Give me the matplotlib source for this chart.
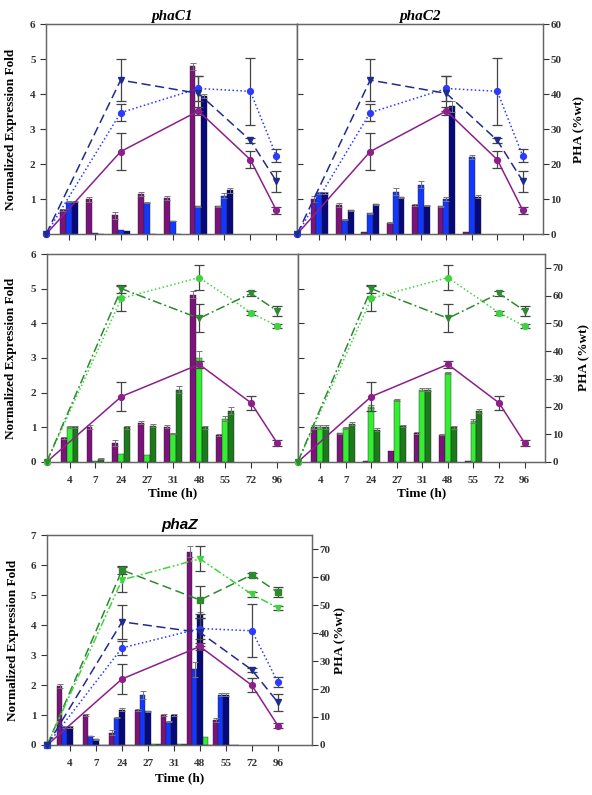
import matplotlib
matplotlib.use("Agg")
import matplotlib.pyplot as plt
import numpy as np

# ---------------- data ----------------
x_labels = ['4', '7', '24', '27', '31', '48', '55', '72', '96']
bar_cats = ['4', '7', '24', '27', '31', '48', '55']
line_times = ['0', '24', '48', '72', '96']

# PHA content (%wt)
pha_purple = [0, 23.6, 35.2, 21.3, 6.9]
pha_purple_err = [0, 5.3, 1.2, 2.5, 1.0]
pha_blue = [0, 34.7, 41.6, 40.8, 22.4]
pha_blue_err = [0, 2.5, 3.6, 9.5, 1.8]
pha_navy = [0, 44.0, 40.2, 26.8, 15.2]
pha_navy_err = [0, 6.0, 5.0, 0.8, 3.0]
pha_lgreen = [0, 59.0, 66.5, 53.8, 49.0]
pha_lgreen_err = [0, 4.5, 4.5, 0.8, 0.8]
pha_dgreen = [0, 62.5, 51.8, 60.8, 54.5]
pha_dgreen_err = [0, 1.5, 5.0, 0.8, 1.8]

# phaC1 expression (top-left)
c1_purple = [0.70, 1.00, 0.55, 1.15, 1.03, 4.80, 0.80]
c1_purple_err = [0.03, 0.07, 0.10, 0.06, 0.05, 0.10, 0.02]
c1_blue = [0.93, 0.03, 0.12, 0.90, 0.38, 0.80, 1.10]
c1_blue_err = [0.02, 0.0, 0.0, 0.02, 0.01, 0.02, 0.07]
c1_navy = [0.93, 0.02, 0.10, 0.02, 0.00, 3.95, 1.25]
c1_navy_err = [0.02, 0.0, 0.0, 0.0, 0.0, 0.05, 0.07]

# phaC2 expression (top-right)
c2_purple = [1.00, 0.83, 0.07, 0.33, 0.83, 0.80, 0.07]
c2_purple_err = [0.08, 0.05, 0.0, 0.02, 0.03, 0.02, 0.0]
c2_blue = [1.18, 0.42, 0.60, 1.22, 1.42, 1.00, 2.20]
c2_blue_err = [0.03, 0.02, 0.02, 0.10, 0.10, 0.05, 0.06]
c2_navy = [1.18, 0.68, 0.85, 1.05, 0.82, 3.65, 1.07]
c2_navy_err = [0.03, 0.02, 0.02, 0.02, 0.02, 0.15, 0.04]

# phaC1 expression, green strains (middle-left)
m1_purple = [0.68, 1.00, 0.55, 1.13, 1.02, 4.82, 0.78]
m1_purple_err = [0.03, 0.06, 0.08, 0.04, 0.05, 0.10, 0.02]
m1_lgreen = [1.00, 0.02, 0.22, 0.20, 0.82, 3.00, 1.25]
m1_lgreen_err = [0.03, 0.0, 0.0, 0.0, 0.02, 0.20, 0.08]
m1_dgreen = [1.00, 0.10, 1.00, 1.05, 2.08, 1.00, 1.48]
m1_dgreen_err = [0.03, 0.01, 0.04, 0.05, 0.10, 0.04, 0.10]

# phaC2 expression, green strains (middle-right)
m2_purple = [1.00, 0.83, 0.03, 0.33, 0.83, 0.79, 0.03]
m2_purple_err = [0.06, 0.02, 0.0, 0.0, 0.03, 0.02, 0.0]
m2_lgreen = [1.00, 0.98, 1.60, 1.78, 2.08, 2.58, 1.19]
m2_lgreen_err = [0.06, 0.02, 0.03, 0.03, 0.04, 0.03, 0.06]
m2_dgreen = [1.00, 1.10, 0.93, 1.05, 2.08, 1.00, 1.48]
m2_dgreen_err = [0.06, 0.04, 0.04, 0.03, 0.04, 0.04, 0.06]

# phaZ expression (bottom)
z_purple = [1.97, 1.00, 0.41, 1.17, 1.00, 6.45, 0.83]
z_purple_err = [0.08, 0.04, 0.08, 0.03, 0.03, 0.18, 0.06]
z_blue = [0.60, 0.30, 0.91, 1.67, 0.78, 2.52, 1.67]
z_blue_err = [0.02, 0.01, 0.02, 0.12, 0.02, 0.25, 0.05]
z_navy = [0.60, 0.19, 1.17, 1.13, 1.00, 4.35, 1.67]
z_navy_err = [0.02, 0.01, 0.05, 0.02, 0.03, 0.10, 0.05]
z_lgreen = [0.0, 0.0, 0.0, 0.02, 0.02, 0.28, 0.0]
z_dgreen = [0.0, 0.0, 0.0, 0.02, 0.02, 0.0, 0.0]

# ---------------- style ----------------
C_PURPLE = '#7B137B'
C_BLUE = '#1238FF'
C_NAVY = '#07087A'
C_LGREEN = '#33EE33'
C_DGREEN = '#1C7A1C'
L_PURPLE = '#8C1F8C'
L_BLUE = '#2B3BFF'
L_NAVY = '#1F2C8C'
L_LGREEN = '#3FD43F'
L_DGREEN = '#2E8A2E'
ERR = '#444444'
SPINE = '#666666'

SERIF = ['Liberation Serif', 'DejaVu Serif']
plt.rcParams['font.family'] = SERIF
plt.rcParams['font.weight'] = 'bold'

fig = plt.figure(figsize=(5.92, 7.95), dpi=100)

bar_x = np.arange(1, len(bar_cats) + 1)
tick_x = np.arange(1, len(x_labels) + 1)
X0 = 0.12
line_x = [X0, x_labels.index('24') + 1, x_labels.index('48') + 1,
          x_labels.index('72') + 1, x_labels.index('96') + 1]


def style_axis(ax):
    for s in ax.spines.values():
        s.set_color(SPINE)
        s.set_linewidth(0.9)
    ax.tick_params(colors='#333333', length=4, width=0.8, labelsize=8)
    for t in ax.get_xticklabels() + ax.get_yticklabels():
        t.set_fontweight('bold')


def draw_bars(ax, series, width):
    n = len(series)
    for i, (vals, errs, col) in enumerate(series):
        off = (i - (n - 1) / 2) * width
        ax.bar(bar_x + off, vals, width=width, color=col,
               edgecolor='#222222', linewidth=0.3, zorder=2)
        if errs is not None:
            e = np.array(errs)
            m = e > 0
            ax.errorbar((bar_x + off)[m], np.array(vals)[m], yerr=e[m],
                        fmt='none', ecolor='#777777', elinewidth=0.7,
                        capsize=2.5, capthick=0.7, zorder=3)


def draw_line(ax, vals, errs, color, marker, dashes, ms=4.2):
    ln, = ax.plot(line_x, vals, color=color, lw=1.1, marker=marker,
                  ms=ms, mfc=color, mec=color, zorder=5, clip_on=False)
    if dashes is not None:
        ln.set_dashes(dashes)
    ax.errorbar(line_x[1:], vals[1:], yerr=errs[1:], fmt='none',
                ecolor=ERR, elinewidth=0.9, capsize=3.5, capthick=0.9,
                zorder=4)


def make_panel(rect, bars, width, lines, ylim_left, yticks_left,
               ylim_right, yticks_right, xlim, left_labels=True,
               right_labels=False, show_xlabels=False):
    ax = fig.add_axes(rect)
    draw_bars(ax, bars, width)
    ax.set_xlim(*xlim)
    ax.set_ylim(*ylim_left)
    ax.set_xticks(tick_x)
    if show_xlabels:
        ax.set_xticklabels(x_labels)
    else:
        ax.set_xticklabels([])
    ax.set_yticks(yticks_left)
    if not left_labels:
        ax.tick_params(axis='y', direction='in', labelleft=False)
    ax.tick_params(axis='x', pad=6)
    style_axis(ax)
    ax2 = ax.twinx()
    ax2.set_ylim(*ylim_right)
    for (vals, errs, col, mk, ds) in lines:
        draw_line(ax2, vals, errs, col, mk, ds)
    if right_labels:
        ax2.set_yticks(yticks_right)
    else:
        ax2.set_yticks([])
    style_axis(ax2)
    ax2.tick_params(axis='y', pad=1.5)
    ax2.set_xlim(*xlim)
    return ax, ax2


DOT = (1, 1.6)
DASH = (6, 3)
DASHDOT = (6, 2, 1.2, 2)
DASHDOTDOT = (5, 1.6, 1.2, 1.6, 1.2, 1.6)

blue_lines = [
    (pha_purple, pha_purple_err, L_PURPLE, 'o', None),
    (pha_blue, pha_blue_err, L_BLUE, 'o', DOT),
    (pha_navy, pha_navy_err, L_NAVY, 'v', DASH),
]
green_lines = [
    (pha_purple, pha_purple_err, L_PURPLE, 'o', None),
    (pha_lgreen, pha_lgreen_err, L_LGREEN, 'o', DOT),
    (pha_dgreen, pha_dgreen_err, L_DGREEN, 'v', DASHDOT),
]
all_lines = [
    (pha_dgreen, pha_dgreen_err, L_DGREEN, 's', DASH),
    (pha_lgreen, pha_lgreen_err, L_LGREEN, 'v', DASHDOTDOT),
    (pha_purple, pha_purple_err, L_PURPLE, 'o', None),
    (pha_blue, pha_blue_err, L_BLUE, 'o', DOT),
    (pha_navy, pha_navy_err, L_NAVY, 'v', DASH),
]

W3 = 0.23
XL = (X0, 9.8)
LBL = 9.5

# top-left phaC1
ax, ax2 = make_panel([0.0777, 0.7053, 0.4240, 0.2645],
                     [(c1_purple, c1_purple_err, C_PURPLE),
                      (c1_blue, c1_blue_err, C_BLUE),
                      (c1_navy, c1_navy_err, C_NAVY)], W3, blue_lines,
                     (0, 6), [1, 2, 3, 4, 5, 6], (0, 60), [], XL)
ax.set_ylabel('Normalized Expression Fold', fontsize=LBL, fontweight='bold')
ax.yaxis.set_label_coords(-0.115, 0.5)
ax.set_title('phaC1', fontsize=11, fontweight='bold', style='italic', pad=3)

# top-right phaC2
ax, ax2 = make_panel([0.5017, 0.7053, 0.4155, 0.2645],
                     [(c2_purple, c2_purple_err, C_PURPLE),
                      (c2_blue, c2_blue_err, C_BLUE),
                      (c2_navy, c2_navy_err, C_NAVY)], W3, blue_lines,
                     (0, 6), [1, 2, 3, 4, 5], (0, 60),
                     [0, 10, 20, 30, 40, 50, 60], XL,
                     left_labels=False, right_labels=True)
ax2.set_ylabel('PHA (%wt)', fontsize=LBL, fontweight='bold')
ax2.yaxis.set_label_coords(1.122, 0.5)
ax.set_title('phaC2', fontsize=11, fontweight='bold', style='italic', pad=3)

# middle-left
ax, ax2 = make_panel([0.0789, 0.4189, 0.4241, 0.2616],
                     [(m1_purple, m1_purple_err, C_PURPLE),
                      (m1_lgreen, m1_lgreen_err, C_LGREEN),
                      (m1_dgreen, m1_dgreen_err, C_DGREEN)], W3, green_lines,
                     (0, 6), [0, 1, 2, 3, 4, 5, 6], (0, 75), [], XL,
                     show_xlabels=True)
ax.set_ylabel('Normalized Expression Fold', fontsize=LBL, fontweight='bold')
ax.yaxis.set_label_coords(-0.118, 0.5)
ax.set_xlabel('Time (h)', fontsize=LBL, fontweight='bold', labelpad=2)

# middle-right
ax, ax2 = make_panel([0.503, 0.4189, 0.4176, 0.2616],
                     [(m2_purple, m2_purple_err, C_PURPLE),
                      (m2_lgreen, m2_lgreen_err, C_LGREEN),
                      (m2_dgreen, m2_dgreen_err, C_DGREEN)], W3, green_lines,
                     (0, 6), [1, 2, 3, 4, 5], (0, 75),
                     [0, 10, 20, 30, 40, 50, 60, 70], XL,
                     left_labels=False, right_labels=True, show_xlabels=True)
ax2.set_ylabel('PHA (%wt)', fontsize=LBL, fontweight='bold')
ax2.yaxis.set_label_coords(1.134, 0.5)
ax.set_xlabel('Time (h)', fontsize=LBL, fontweight='bold', labelpad=2)

# bottom phaZ
ax, ax2 = make_panel([0.0789, 0.0629, 0.4476, 0.2641],
                     [(z_purple, z_purple_err, C_PURPLE),
                      (z_blue, z_blue_err, C_BLUE),
                      (z_navy, z_navy_err, C_NAVY),
                      (z_lgreen, None, C_LGREEN),
                      (z_dgreen, None, C_DGREEN)], 0.2, all_lines,
                     (0, 7), [0, 1, 2, 3, 4, 5, 6, 7], (0, 75),
                     [0, 10, 20, 30, 40, 50, 60, 70], (0.1, 10.3),
                     right_labels=True, show_xlabels=True)
ax.set_ylabel('Normalized Expression Fold', fontsize=LBL, fontweight='bold')
ax.yaxis.set_label_coords(-0.103, 0.5)
ax2.set_ylabel('PHA (%wt)', fontsize=LBL, fontweight='bold')
ax2.yaxis.set_label_coords(1.085, 0.5)
ax.set_xlabel('Time (h)', fontsize=LBL, fontweight='bold', labelpad=3)
ax.set_title('phaZ', fontsize=11, fontweight='bold', style='italic', pad=4,
             family=['Liberation Sans', 'DejaVu Sans'])

fig.savefig('out.png', dpi=100)
